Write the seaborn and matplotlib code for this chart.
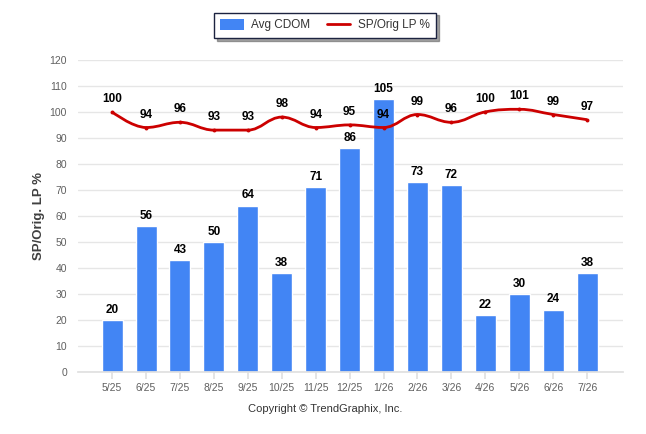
import numpy as np
import pandas as pd
import seaborn as sns
import matplotlib
matplotlib.use("Agg")
import matplotlib.pyplot as plt
from matplotlib.path import Path
from matplotlib.patches import PathPatch, Patch
from matplotlib.lines import Line2D

months = ["5/25", "6/25", "7/25", "8/25", "9/25", "10/25", "11/25", "12/25",
          "1/26", "2/26", "3/26", "4/26", "5/26", "6/26", "7/26"]
avg_cdom = [20, 56, 43, 50, 64, 38, 71, 86, 105, 73, 72, 22, 30, 24, 38]
sp_orig_lp = [100, 94, 96, 93, 93, 98, 94, 95, 94, 99, 96, 100, 101, 99, 97]
y_ticks = list(range(0, 121, 10))

BAR_COLOR = "#4285f4"
LINE_COLOR = "#cc0000"


def spline_path(xs, ys, smoothing=1.5):
    # smooth curve through the points, highcharts style control points
    denom = smoothing + 1
    verts = [(xs[0], ys[0])]
    codes = [Path.MOVETO]
    ctrl = []
    n = len(xs)
    for i in range(n):
        if i == 0 or i == n - 1:
            ctrl.append(None)
            continue
        px, py = xs[i], ys[i]
        lx, ly = xs[i - 1], ys[i - 1]
        nx, ny = xs[i + 1], ys[i + 1]
        lcx = (smoothing * px + lx) / denom
        lcy = (smoothing * py + ly) / denom
        rcx = (smoothing * px + nx) / denom
        rcy = (smoothing * py + ny) / denom
        corr = ((rcy - lcy) * (rcx - px)) / (rcx - lcx) + py - rcy
        lcy += corr
        rcy += corr
        if lcy > ly and lcy > py:
            lcy = max(ly, py)
            rcy = 2 * py - lcy
        elif lcy < ly and lcy < py:
            lcy = min(ly, py)
            rcy = 2 * py - lcy
        if rcy > ny and rcy > py:
            rcy = max(ny, py)
            lcy = 2 * py - rcy
        elif rcy < ny and rcy < py:
            rcy = min(ny, py)
            lcy = 2 * py - rcy
        ctrl.append(((lcx, lcy), (rcx, rcy)))
    for i in range(1, n):
        c1 = ctrl[i - 1][1] if ctrl[i - 1] else (xs[i - 1], ys[i - 1])
        c2 = ctrl[i][0] if ctrl[i] else (xs[i], ys[i])
        verts += [c1, c2, (xs[i], ys[i])]
        codes += [Path.CURVE4] * 3
    return Path(verts, codes)


sns.set_theme(style="white")
plt.rcParams["font.family"] = ["Liberation Sans", "DejaVu Sans"]

fig = plt.figure(figsize=(6.46, 4.34), dpi=100)
ax = fig.add_axes([0.121, 0.143, 0.843, 0.719])

df = pd.DataFrame({"month": months, "cdom": avg_cdom, "lp": sp_orig_lp})
sns.barplot(data=df, x="month", y="cdom", color=BAR_COLOR, saturation=1,
            width=0.62, ax=ax, zorder=2)

pos = np.arange(len(months))
ax.add_patch(PathPatch(spline_path(pos, sp_orig_lp), facecolor="none",
                       edgecolor=LINE_COLOR, lw=2, zorder=3))
sns.scatterplot(x=pos, y=sp_orig_lp, color=LINE_COLOR, s=8, linewidth=0,
                ax=ax, zorder=4)

for x, v in zip(pos, avg_cdom):
    ax.annotate(str(v), (x, v), xytext=(0, 3), textcoords="offset points",
                ha="center", va="bottom", fontsize=8.5, fontweight="bold",
                color="black", zorder=5)
for x, v in zip(pos, sp_orig_lp):
    ax.annotate(str(v), (x, v), xytext=(0, 5), textcoords="offset points",
                ha="center", va="bottom", fontsize=8.5, fontweight="bold",
                color="black", zorder=5)

ax.set_xlim(-1.0, 15.05)
ax.set_ylim(0, 120)
ax.set_yticks(y_ticks)
ax.grid(axis="y", color="#e6e6e6", lw=1, zorder=0)
ax.set_axisbelow(True)
for s in ["top", "right", "left"]:
    ax.spines[s].set_visible(False)
ax.spines["bottom"].set_color("#e0e0e0")
ax.tick_params(axis="y", length=0, labelsize=7.5, labelcolor="#606060", pad=8)
ax.tick_params(axis="x", length=5, color="#e0e0e0", labelsize=7.5,
               labelcolor="#606060", pad=3, bottom=True)
ax.set_xlabel("")
ax.set_ylabel("SP/Orig. LP %", fontsize=9.5, fontweight="bold",
              color="#404040", labelpad=3)

handles = [Patch(facecolor=BAR_COLOR, edgecolor="none", label="Avg CDOM"),
           Line2D([], [], color=LINE_COLOR, lw=2, label="SP/Orig LP %")]
leg = fig.legend(handles=handles, loc="center", bbox_to_anchor=(0.503, 0.942),
                 ncol=2, frameon=True, fancybox=False, shadow=True,
                 fontsize=8.5, handlelength=2.0, handleheight=1.0,
                 handletextpad=0.6, columnspacing=1.4, borderpad=0.55)
leg.get_frame().set_edgecolor("#1c2340")
leg.get_frame().set_linewidth(1)
for t in leg.get_texts():
    t.set_color("#333333")

fig.text(0.503, 0.058, "Copyright \u00a9 TrendGraphix, Inc.", ha="center",
         va="center", fontsize=8, color="#333333")

fig.savefig("out.png", dpi=100)
